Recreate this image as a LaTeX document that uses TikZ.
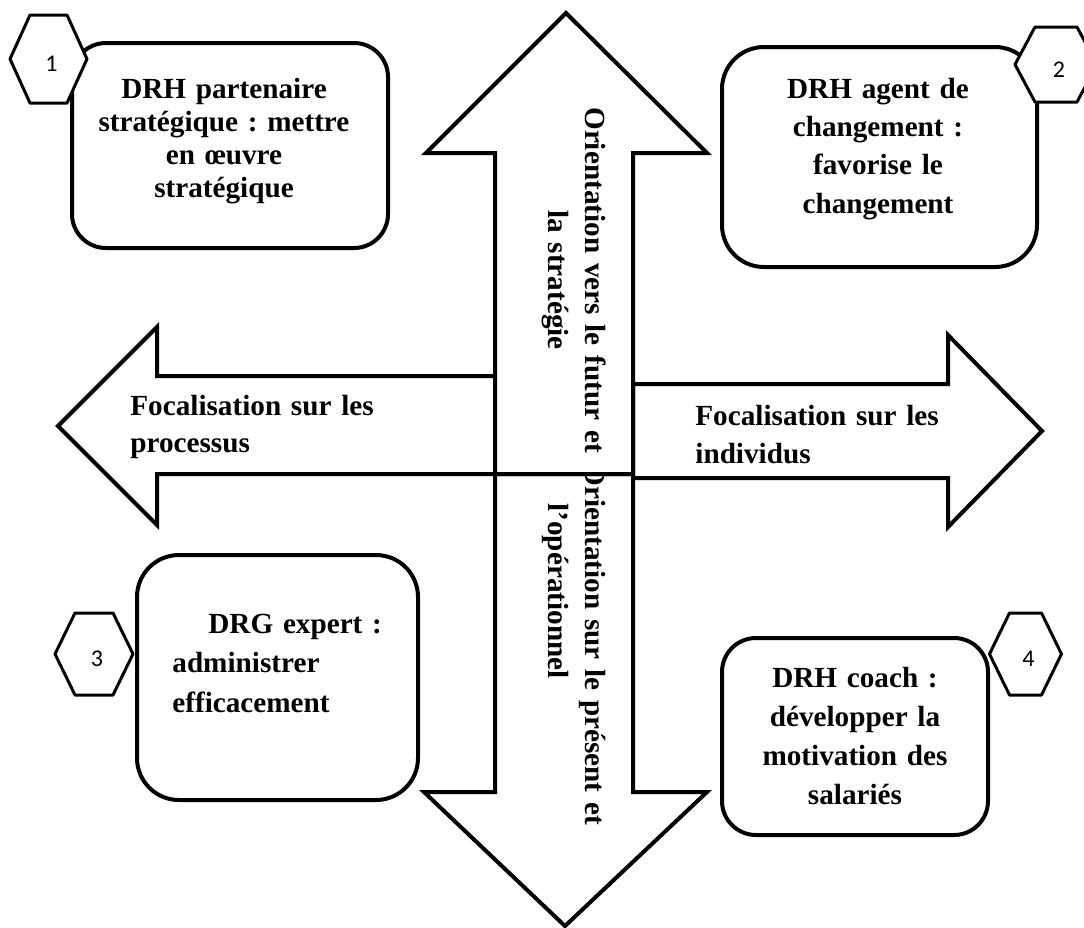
\documentclass[tikz,border=0pt]{standalone}
\usepackage{fontspec}
\setmainfont{Liberation Serif}
\newfontfamily\numfont{Carlito}
\frenchspacing
\tikzset{
  bigarrow/.style={draw=black,line width=2pt,fill=white},
  rolebox/.style={draw=black,line width=2pt,fill=white},
  hexline/.style={draw=black,line width=1.5pt,fill=white,line join=round},
  captxt/.style={inner sep=0pt,text width=#1},
  numtxt/.style={inner sep=0pt,font=\numfont\fontsize{12pt}{14pt}\selectfont}
}
\begin{document}
\begin{tikzpicture}[x=0.5pt,y=-0.5pt]
    \useasboundingbox (0,0) rectangle (1084,928);

    % axe vertical, partie basse
    \draw[bigarrow] (495,474) -- (495,792) -- (424,792) -- (565,926) -- (707,792) -- (633,792) -- (633,474) -- cycle;
    \node[captxt=200pt,rotate=-90,anchor=base west,align=left,font=\bfseries\fontsize{14.6pt}{18.5pt}\selectfont]
      (present) at (585,463) {Orientation sur le présent et\\\hspace*{20pt}l’opérationnel};

    % axe horizontal
    \draw[bigarrow] (495,376) -- (157,376) -- (157,327) -- (58,426) -- (157,525) -- (157,474) -- (495,474);
    \draw[bigarrow] (633,384) -- (948,384) -- (948,335) -- (1042,431) -- (948,527) -- (948,478) -- (633,478) -- cycle;
    \node[captxt=150pt,anchor=base west,align=left,font=\bfseries\fontsize{14.6pt}{18.5pt}\selectfont]
      (processus) at (130,415) {Focalisation sur les\\processus};
    \node[captxt=150pt,anchor=base west,align=left,font=\bfseries\fontsize{14.6pt}{19pt}\selectfont]
      (individus) at (695,425) {Focalisation sur les\\individus};

    % axe vertical, partie haute
    \draw[bigarrow] (495,474) -- (495,153) -- (426,153) -- (566,13) -- (707,153) -- (633,153) -- (633,474) -- cycle;
    \node[captxt=190pt,rotate=-90,anchor=base,align=center,font=\bfseries\fontsize{14.6pt}{18.5pt}\selectfont]
      (futur) at (585,280) {Orientation vers le futur et\\la stratégie};

    % les quatre roles
    \foreach \xa/\ya/\xb/\yb/\r in {72/43/388/248/17,722/47/1037/267/21,137/555/418/800/21,722/638/988/835/17}
      \draw[rolebox,rounded corners=\r pt] (\xa,\ya) rectangle (\xb,\yb);

    \node[captxt=150pt,anchor=base,align=center,font=\bfseries\fontsize{14.6pt}{16.5pt}\selectfont]
      (strat) at (224,98) {DRH partenaire\\stratégique : mettre\\en œuvre\\stratégique};
    \node[captxt=140pt,anchor=base,align=center,font=\bfseries\fontsize{14.6pt}{19.2pt}\selectfont]
      (change) at (878,98) {DRH agent de\\changement :\\favorise le\\changement};
    \node[captxt=120pt,anchor=base west,align=left,font=\bfseries\fontsize{14.6pt}{19.75pt}\selectfont]
      (expert) at (172,633) {\hspace*{18pt}DRG expert :\\administrer\\efficacement};
    \node[captxt=150pt,anchor=base,align=center,font=\bfseries\fontsize{14.6pt}{19.5pt}\selectfont]
      (coach) at (855,687) {DRH coach :\\développer la\\motivation des\\salariés};

    % numeros
    \foreach \cx/\cy/\w/\h/\n in {48.5/59/38.5/44/1,1056/64.5/41/37.5/2,94/654/39/41/3,1025.5/654/36/41/4} {
      \draw[hexline] (\cx-\w,\cy) -- (\cx-\w+20,\cy-\h) -- (\cx+\w-20,\cy-\h) -- (\cx+\w,\cy)
        -- (\cx+\w-20,\cy+\h) -- (\cx-\w+20,\cy+\h) -- cycle;
      \node[numtxt] (num\n) at (\cx+3,\cy+5) {\n};
    }
\end{tikzpicture}
\end{document}
